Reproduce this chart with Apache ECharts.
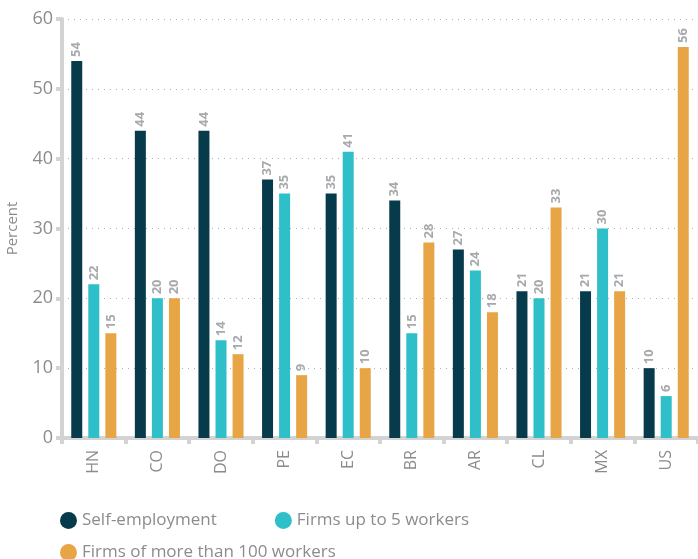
<!DOCTYPE html>
<html>
<head>
<meta charset="utf-8">
<script src="https://cdn.jsdelivr.net/npm/echarts@6/dist/echarts.min.js"></script>
<style>html,body{margin:0;padding:0;background:#fff}#box{width:698px;height:559px}</style>
</head>
<body>
<div id="box"></div>
<script>
var countries = ['HN', 'CO', 'DO', 'PE', 'EC', 'BR', 'AR', 'CL', 'MX', 'US'];
var selfEmployment = [54, 44, 44, 37, 35, 34, 27, 21, 21, 10];
var firmsUpTo5 = [22, 20, 14, 35, 41, 15, 24, 20, 30, 6];
var firmsOver100 = [15, 20, 12, 9, 10, 28, 18, 33, 21, 56];
var seriesNames = ['Self-employment', 'Firms up to 5 workers', 'Firms of more than 100 workers'];
var colors = ['#073b4c', '#2ebfc9', '#e8a545'];

var myChart = echarts.init(document.getElementById('box'));
var font = '"Open Sans", Lato, sans-serif';

function bar(name, data, color) {
    return {
        name: name,
        type: 'bar',
        data: data,
        barWidth: 11,
        barGap: '55%',
        itemStyle: { color: color },
        label: {
            show: true,
            position: 'top',
            rotate: 90,
            align: 'left',
            verticalAlign: 'middle',
            distance: 4,
            color: '#a7a9ac',
            fontWeight: 'bold',
            fontSize: 13,
            fontFamily: font
        }
    };
}

var option = {
    animation: false,
    textStyle: { fontFamily: font },
    grid: { left: 62, right: 0, top: 19, bottom: 121, containLabel: false, outerBoundsMode: 'none' },
    legend: [
        {
            data: [seriesNames[0], seriesNames[1]],
            left: 55, top: 507,
            icon: 'circle', itemWidth: 17, itemHeight: 17, itemGap: 58,
            textStyle: { color: '#8a8c8e', fontSize: 17, fontFamily: font }
        },
        {
            data: [seriesNames[2]],
            left: 55, top: 539,
            icon: 'circle', itemWidth: 17, itemHeight: 17,
            textStyle: { color: '#8a8c8e', fontSize: 17, fontFamily: font }
        }
    ],
    xAxis: {
        type: 'category',
        data: countries,
        axisLine: { lineStyle: { color: '#d3d3d3', width: 4 } },
        axisTick: { show: true, length: 6, lineStyle: { color: '#d3d3d3', width: 4 } },
        axisLabel: { rotate: 90, color: '#8a8c8e', fontSize: 16, margin: 12, fontFamily: font }
    },
    yAxis: {
        type: 'value',
        min: 0, max: 60, interval: 10,
        name: 'Percent',
        nameLocation: 'middle',
        nameGap: 42,
        nameTextStyle: { color: '#8a8c8e', fontSize: 15, fontFamily: font },
        axisLine: { show: true, lineStyle: { color: '#d3d3d3', width: 4 } },
        axisTick: { show: true, length: 6, lineStyle: { color: '#d3d3d3', width: 4 } },
        axisLabel: { color: '#8a8c8e', fontSize: 18, margin: 9, fontFamily: font },
        splitLine: { lineStyle: { color: '#b0b0b0', type: [1, 5], width: 1 } }
    },
    series: [
        bar(seriesNames[0], selfEmployment, colors[0]),
        bar(seriesNames[1], firmsUpTo5, colors[1]),
        bar(seriesNames[2], firmsOver100, colors[2])
    ]
};
myChart.setOption(option, true);
</script>
</body>
</html>
